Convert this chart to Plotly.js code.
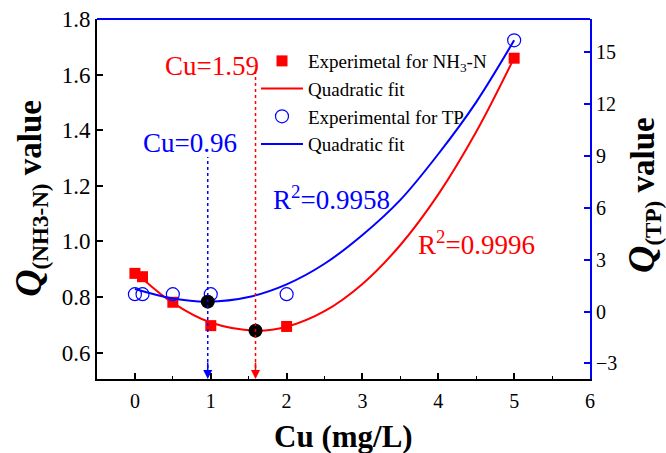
<!DOCTYPE html>
<html>
<head>
<meta charset="utf-8">
<script src="https://cdn.plot.ly/plotly-3.0.1.min.js"></script>
<style>html,body{margin:0;padding:0;background:#fff;}#chart{width:666px;height:453px;}</style>
</head>
<body>
<div id="chart"></div>
<script>
// ---- data ----
const cu = [0, 0.1, 0.5, 1, 2, 5];
const qNH3 = [0.885, 0.873, 0.781, 0.697, 0.694, 1.659];
const qTP = [1.0, 1.0, 1.0, 1.0, 1.0, 15.67];

const fitCuNH3 = [0.1, 0.5, 1.0, 1.59, 2.0, 2.5, 3.0, 3.5, 4.0, 4.5, 5.0];
const fitNH3 = [0.866, 0.779, 0.708, 0.679, 0.693, 0.749, 0.847, 0.987, 1.169, 1.394, 1.660];

const fitCuTP = [0, 0.5, 0.96, 1.5, 2.0, 2.5, 3.0, 3.5, 4.0, 4.5, 5.0];
const fitTP = [1.30, 0.75, 0.57, 0.84, 1.57, 2.76, 4.42, 6.45, 9.10, 12.10, 15.67];

const optCuNH3 = [1.59];
const optQNH3 = [0.679];
const optCuTP = [0.96];
const optQTP = [0.57];

const xTicks = [0, 1, 2, 3, 4, 5, 6];
const yTicks = [0.6, 0.8, 1.0, 1.2, 1.4, 1.6, 1.8];
const y2Ticks = [-3, 0, 3, 6, 9, 12, 15];

const RED = '#ff0000', BLUE = '#0000ff';
const FONT = '"Liberation Serif", "Times New Roman", serif';
const yMin = 0.505;

const traces = [
  {x: cu, y: qNH3, type: 'scatter', mode: 'markers', name: 'Experimetal for NH<sub>3</sub>-N',
   marker: {symbol: 'square', size: 11, color: RED}, xaxis: 'x', yaxis: 'y', legendrank: 1},
  {x: fitCuNH3, y: fitNH3, type: 'scatter', mode: 'lines', name: 'Quadratic fit',
   line: {color: RED, width: 2, shape: 'spline'}, xaxis: 'x', yaxis: 'y', legendrank: 2},
  {x: optCuNH3, y: optQNH3, type: 'scatter', mode: 'markers', showlegend: false,
   marker: {size: 14, color: '#000'}, xaxis: 'x', yaxis: 'y'},
  {x: cu, y: qTP, type: 'scatter', mode: 'markers', name: 'Experimental for TP',
   marker: {symbol: 'circle-open', size: 13, color: BLUE, line: {width: 1.2}}, xaxis: 'x', yaxis: 'y2', legendrank: 3},
  {x: fitCuTP, y: fitTP, type: 'scatter', mode: 'lines', name: 'Quadratic fit',
   line: {color: BLUE, width: 2, shape: 'spline'}, xaxis: 'x', yaxis: 'y2', legendrank: 4},
  {x: optCuTP, y: optQTP, type: 'scatter', mode: 'markers', showlegend: false,
   marker: {size: 14, color: '#000'}, xaxis: 'x', yaxis: 'y2'}
];

const layout = {
  width: 666, height: 453,
  margin: {l: 97, r: 76, t: 19, b: 74},
  paper_bgcolor: '#fff', plot_bgcolor: '#fff',
  font: {family: FONT, color: '#000'},
  showlegend: true,
  legend: {x: 0.3225, y: 0.936, xanchor: 'left', yanchor: 'top', bgcolor: 'rgba(0,0,0,0)',
           itemwidth: 42, font: {family: FONT, size: 19, color: '#000'}, tracegroupgap: 0},
  xaxis: {range: [-0.5, 6], tickvals: xTicks, ticks: 'inside', ticklen: 6, tickwidth: 2,
          tickcolor: '#000', showline: true, linewidth: 2, linecolor: '#000',
          showgrid: false, zeroline: false, tickfont: {size: 20, family: FONT},
          ticklabelstandoff: 3,
          minor: {dtick: 0.5, ticks: 'inside', ticklen: 3, tickwidth: 1, tickcolor: '#000'}},
  yaxis: {range: [yMin, 1.8], tickvals: yTicks, tickformat: '.1f', ticks: 'inside', ticklen: 6,
          tickwidth: 2, tickcolor: '#000', showline: true, linewidth: 2, linecolor: '#000',
          showgrid: false, zeroline: false, tickfont: {size: 23, family: FONT}},
  yaxis2: {range: [-3.9, 16.9], tickvals: y2Ticks, overlaying: 'y', side: 'right', ticks: 'inside',
           ticklen: 6, tickwidth: 2, tickcolor: BLUE, showline: true, linewidth: 2, linecolor: BLUE,
           showgrid: false, zeroline: false, tickfont: {size: 20, family: FONT, color: '#000'}},
  shapes: [
    {type: 'line', xref: 'paper', yref: 'paper', x0: 0, x1: 1, y0: 1, y1: 1,
     line: {color: BLUE, width: 2}},
    {type: 'line', xref: 'x', yref: 'y', x0: optCuTP[0], x1: optCuTP[0], y0: yMin + 0.04, y1: 1.304,
     line: {color: BLUE, width: 1.5, dash: 'dot'}},
    {type: 'line', xref: 'x', yref: 'y', x0: optCuNH3[0], x1: optCuNH3[0], y0: yMin + 0.04, y1: 1.609,
     line: {color: RED, width: 1.5, dash: 'dot'}}
  ],
  annotations: [
    {text: '<b>Cu (mg/L)</b>', xref: 'paper', yref: 'paper', x: 0.5, y: -0.158, height: 34,
     xanchor: 'center', yanchor: 'middle', showarrow: false, font: {size: 31, family: FONT}},
    {text: '<b><span style="font-size:38px"><i>Q</i></span><sub>(NH3-N)</sub> value</b>',
     xref: 'paper', yref: 'paper', x: -0.136, y: 0.503, textangle: -90,
     xanchor: 'center', yanchor: 'middle', showarrow: false, font: {size: 33, family: FONT}},
    {text: '<b><span style="font-size:38px"><i>Q</i></span><sub>(TP)</sub> value</b>',
     xref: 'paper', yref: 'paper', x: 1.1075, y: 0.511, textangle: -90,
     xanchor: 'center', yanchor: 'middle', showarrow: false, font: {size: 33, family: FONT}},
    {text: 'Cu=1.59', xref: 'x', yref: 'y', x: 1.017, y: 1.631, showarrow: false,
     font: {size: 27, color: RED, family: FONT}},
    {text: 'Cu=0.96', xref: 'x', yref: 'y', x: 0.727, y: 1.354, showarrow: false,
     font: {size: 27, color: BLUE, family: FONT}},
    {text: 'R<sup>2</sup>=0.9958', xref: 'x', yref: 'y', x: 2.59, y: 1.156, showarrow: false,
     font: {size: 27, color: BLUE, family: FONT}},
    {text: 'R<sup>2</sup>=0.9996', xref: 'x', yref: 'y', x: 4.50, y: 0.994, showarrow: false,
     font: {size: 27, color: RED, family: FONT}},
    {text: '', xref: 'x', yref: 'y', x: optCuTP[0], y: yMin, ax: 0, ay: -18, showarrow: true,
     arrowhead: 2, arrowsize: 1.2, arrowwidth: 1.5, arrowcolor: BLUE, standoff: 0},
    {text: '', xref: 'x', yref: 'y', x: optCuNH3[0], y: yMin, ax: 0, ay: -18, showarrow: true,
     arrowhead: 2, arrowsize: 1.2, arrowwidth: 1.5, arrowcolor: RED, standoff: 0}
  ]
};

Plotly.newPlot('chart', traces, layout, {displayModeBar: false, staticPlot: true});
</script>
</body>
</html>
